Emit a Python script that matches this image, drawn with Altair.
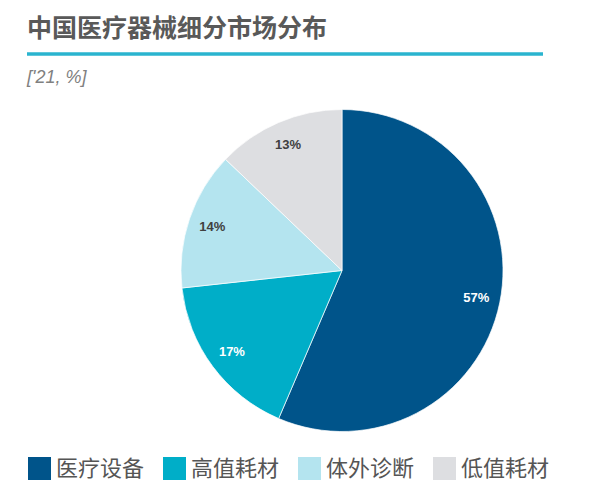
import pandas as pd
import altair as alt

# chart values
segments = ['医疗设备', '高值耗材', '体外诊断', '低值耗材']
shares = [57, 17, 14, 13]
seg_colors = ['#00548a', '#00aec8', '#b4e4ef', '#dddee1']
label_colors = ['#ffffff', '#ffffff', '#404040', '#404040']

title_text = '中国医疗器械细分市场分布'
subtitle_text = "['21, %]"

df = pd.DataFrame({
    'segment': segments,
    'share': shares,
    'idx': list(range(len(segments))),
    'label_color': label_colors,
})

CX, CY, R = 334, 262.5, 161
CJK = 'Noto Sans CJK SC'

base = alt.Chart(df).encode(
    theta=alt.Theta('share:Q', stack=True),
    order=alt.Order('idx:Q'),
)

arcs = base.mark_arc(outerRadius=R, stroke='#ffffff', strokeWidth=0.7).encode(
    x=alt.value(CX),
    y=alt.value(CY),
    color=alt.Color(
        'segment:N',
        sort=segments,
        scale=alt.Scale(domain=segments, range=seg_colors),
        legend=alt.Legend(
            title=None,
            orient='none',
            legendX=20,
            legendY=449,
            direction='horizontal',
            columns=4,
            symbolType='square',
            symbolSize=529,
            symbolStrokeWidth=0,
            symbolOpacity=1,
            labelFont=CJK,
            labelFontSize=22,
            labelColor='#555555',
            labelOffset=5,
            columnPadding=18,
        ),
    ),
)

labels = base.transform_calculate(
    pct="datum.share + '%'"
).mark_text(radius=137, font='Liberation Sans', fontSize=13, fontWeight='bold').encode(
    x=alt.value(CX),
    y=alt.value(CY),
    text='pct:N',
    color=alt.Color('label_color:N', scale=None),
)

one = pd.DataFrame({'a': [0]})

title = alt.Chart(one).mark_text(
    align='left', baseline='alphabetic', font=CJK, fontSize=25,
    fontWeight='bold', color='#595959'
).encode(x=alt.value(19), y=alt.value(28.5), text=alt.value(title_text))

underline = alt.Chart(one).mark_rule(color='#2ab4cf', strokeWidth=3.5).encode(
    x=alt.value(19), x2=alt.value(535), y=alt.value(46)
)

subtitle = alt.Chart(one).mark_text(
    align='left', baseline='alphabetic', font='Liberation Sans', fontSize=18,
    fontStyle='italic', color='#808080'
).encode(x=alt.value(19), y=alt.value(75), text=alt.value(subtitle_text))

chart = alt.layer(arcs, labels, title, underline, subtitle).properties(
    width=570,
    height=482,
    padding=0,
    autosize=alt.AutoSizeParams(type='none'),
).configure_view(stroke=None)

chart.save("out.html", embed_options={"renderer": "svg", "actions": False})
